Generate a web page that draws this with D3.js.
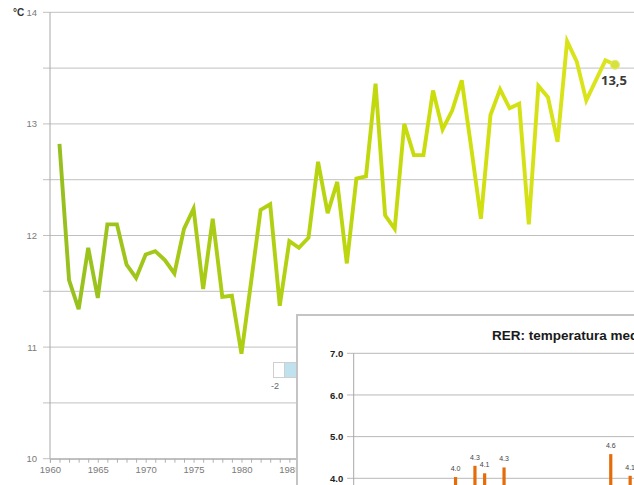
<!DOCTYPE html>
<html>
<head>
<meta charset="utf-8">
<script src="https://cdn.jsdelivr.net/npm/d3@7"></script>
<style>
  html, body { margin: 0; padding: 0; background: #fff; overflow: hidden; }
  svg { display: block; }
</style>
</head>
<body>
<svg id="chart" width="634" height="485"></svg>
<script>
// ---- Data ----
const years = d3.range(1961, 2020);
const temps = [
  12.82, 11.60, 11.34, 11.89, 11.44, 12.10, 12.10, 11.74, 11.62, 11.83,
  11.86, 11.78, 11.66, 12.06, 12.24, 11.52, 12.15, 11.45, 11.46, 10.94,
  11.58, 12.23, 12.28, 11.37, 11.95, 11.89, 11.98, 12.66, 12.20, 12.48,
  11.75, 12.51, 12.53, 13.36, 12.18, 12.06, 13.00, 12.72, 12.72, 13.30,
  12.95, 13.12, 13.39, 12.78, 12.15, 13.08, 13.31, 13.14, 13.18, 12.10,
  13.34, 13.24, 12.84, 13.74, 13.56, 13.21, 13.39, 13.57, 13.53
];
const yTicks = [10, 10.5, 11, 11.5, 12, 12.5, 13, 13.5, 14];
const yLabels = [10, 11, 12, 13, 14];
const xLabels = [1960, 1965, 1970, 1975, 1980, 1985];
const lastLabel = "13,5";
const unitLabel = "°C";

// inset chart (partially visible)
const insetTitle = "RER: temperatura media annua";
const insetSlots = [10, 12, 13, 15, 26, 28];
const insetValues = [4.03, 4.30, 4.12, 4.26, 4.58, 4.06];
const insetTicks = [4.0, 5.0, 6.0, 7.0];
const legendLabel = "-2";

// ---- Main chart ----
const svg = d3.select("#chart");
const x = d3.scaleLinear().domain([1960, 2019]).range([49.9, 615]);
const y = d3.scaleLinear().domain([10, 14]).range([458.7, 12.3]);

const defs = svg.append("defs");
const grad = defs.append("linearGradient").attr("id", "lineGrad")
  .attr("gradientUnits", "userSpaceOnUse")
  .attr("x1", x(1961)).attr("x2", x(2019)).attr("y1", 0).attr("y2", 0);
grad.append("stop").attr("offset", 0).attr("stop-color", "#97c01f");
grad.append("stop").attr("offset", 0.45).attr("stop-color", "#b6d310");
grad.append("stop").attr("offset", 0.7).attr("stop-color", "#cede0c");
grad.append("stop").attr("offset", 1).attr("stop-color", "#dce51e");

// gridlines
svg.append("g").selectAll("line").data(yTicks).join("line")
  .attr("x1", 43).attr("x2", 634)
  .attr("y1", d => y(d)).attr("y2", d => y(d))
  .attr("stroke", "#c0c0c0").attr("stroke-width", 1);

// y axis
const yAxis = d3.axisLeft(y).tickValues(yLabels).tickSize(0).tickFormat(d3.format("d"));
const gy = svg.append("g").attr("transform", "translate(50,0)").call(yAxis);
gy.select(".domain").remove();
gy.selectAll("text").attr("x", -13).attr("fill", "#7a7a7a")
  .style("font", "9.5px 'Liberation Sans', Arial, sans-serif");
svg.append("line").attr("x1", 50).attr("x2", 50).attr("y1", y(14)).attr("y2", y(10))
  .attr("stroke", "#a8a8a8");

svg.append("text").attr("x", 13).attr("y", y(14) + 3.5)
  .attr("fill", "#333").style("font", "bold 10px 'Liberation Sans', Arial, sans-serif")
  .text(unitLabel);

// x axis
const xAxis = d3.axisBottom(x).tickValues(d3.range(1960, 2020)).tickSize(4).tickFormat(d => xLabels.includes(d) ? d : "");
const gx = svg.append("g").attr("transform", `translate(0,${y(10)})`).call(xAxis);
gx.select(".domain").attr("stroke", "#a8a8a8");
gx.selectAll(".tick line").attr("stroke", "#b0b0b0");
gx.selectAll("text").attr("fill", "#7a7a7a").attr("y", 8)
  .style("font", "9.5px 'Liberation Sans', Arial, sans-serif");

// line
const line = d3.line().x((d, i) => x(years[i])).y(d => y(d));
svg.append("path").datum(temps).attr("d", line)
  .attr("fill", "none").attr("stroke", "url(#lineGrad)")
  .attr("stroke-width", 3.9).attr("stroke-linejoin", "miter").attr("stroke-miterlimit", 4);

const lastI = temps.length - 1;
svg.append("circle").attr("cx", x(years[lastI])).attr("cy", y(temps[lastI])).attr("r", 4.5)
  .attr("fill", "#d7e33c").attr("stroke", "#e3ea7a").attr("stroke-width", 1);
svg.append("text").attr("x", 601).attr("y", y(temps[lastI]) + 20)
  .attr("fill", "#3a3a3a").style("font", "bold 13px 'Open Sans', 'Liberation Sans', Arial, sans-serif")
  .text(lastLabel);

// small color legend (partially hidden)
svg.append("rect").attr("x", 273.5).attr("y", 362.5).attr("width", 11).attr("height", 15)
  .attr("fill", "#fff").attr("stroke", "#cfcfcf");
svg.append("rect").attr("x", 284.5).attr("y", 362.5).attr("width", 13).attr("height", 15)
  .attr("fill", "#bfe2ee").attr("stroke", "#cfcfcf");
svg.append("text").attr("x", 275).attr("y", 389).attr("text-anchor", "middle")
  .attr("fill", "#666").style("font", "9px 'Liberation Sans', Arial, sans-serif")
  .text(legendLabel);

// ---- Inset chart ----
const inset = svg.append("g");
inset.append("rect").attr("x", 297).attr("y", 315).attr("width", 360).attr("height", 200)
  .attr("fill", "#fff").attr("stroke", "#c4c4c4").attr("stroke-width", 2);

inset.append("text").attr("x", 492).attr("y", 339.5)
  .attr("fill", "#1a1a1a").style("font", "bold 13.5px 'Liberation Sans', Arial, sans-serif")
  .text(insetTitle);

const iy = d3.scaleLinear().domain([4, 7]).range([478.3, 353.3]);
const ix = d3.scaleLinear().domain([0, 1]).range([353.7, 363.4]);

inset.append("g").selectAll("line").data(insetTicks).join("line")
  .attr("x1", 347).attr("x2", 640)
  .attr("y1", d => iy(d)).attr("y2", d => iy(d))
  .attr("stroke", "#b8b8b8");
inset.append("line").attr("x1", 353.7).attr("x2", 353.7).attr("y1", iy(7)).attr("y2", 500)
  .attr("stroke", "#a8a8a8");

const iAxis = d3.axisLeft(iy).tickValues(insetTicks).tickSize(0).tickFormat(d3.format(".1f"));
const giy = inset.append("g").attr("transform", "translate(353.7,0)").call(iAxis);
giy.select(".domain").remove();
giy.selectAll("text").attr("x", -10.5).attr("fill", "#222")
  .style("font", "bold 9.5px 'Liberation Sans', Arial, sans-serif");

inset.append("g").selectAll("rect").data(insetValues).join("rect")
  .attr("x", (d, i) => ix(insetSlots[i] + 0.5) - 1.6)
  .attr("width", 3.2)
  .attr("y", d => iy(d))
  .attr("height", d => 520 - iy(d))
  .attr("fill", "#e46c0a");

inset.append("g").selectAll("text").data(insetValues).join("text")
  .attr("x", (d, i) => ix(insetSlots[i] + 0.5))
  .attr("y", d => iy(d) - 6)
  .attr("text-anchor", "middle")
  .attr("fill", "#444").style("font", "7px 'Liberation Sans', Arial, sans-serif")
  .text(d => d.toFixed(1));
</script>
</body>
</html>
